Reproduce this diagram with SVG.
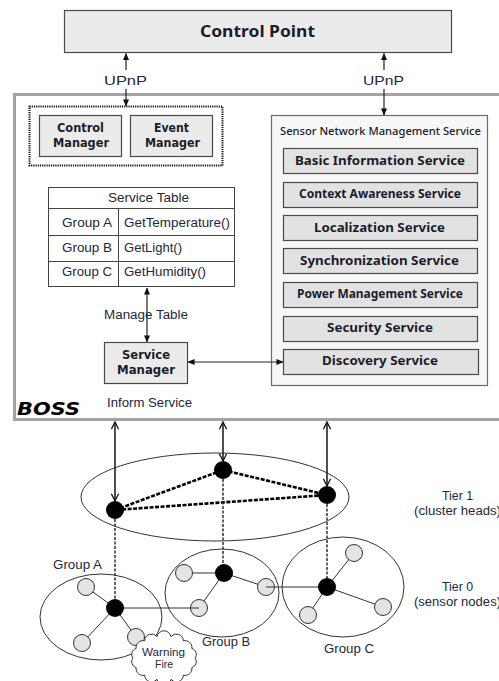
<svg xmlns="http://www.w3.org/2000/svg" width="499" height="681" viewBox="0 0 499 681">
  <style>
    .box { fill: #ebebeb; stroke: #4a4a4a; stroke-width: 1.2; }
    .svc { fill: #e2e2e2; stroke: #4a4a4a; stroke-width: 1.2; }
    .bold { font-family: "Noto Sans", "DejaVu Sans", Verdana, sans-serif; font-weight: bold; fill: #1c1c2c; }
    .bold2 { font-family: "DejaVu Sans", Verdana, sans-serif; font-weight: bold; font-size: 12.5px; fill: #1c1c2c; }
    .lbl { font-family: "Liberation Sans", Arial, sans-serif; fill: #26263a; }
    .link { stroke: #222; stroke-width: 1.2; fill: none; }
    .tierlink { stroke: #222; stroke-width: 1.6; fill: none; }
    .head { fill: #000; }
    .sensor { fill: #e4e4e4; stroke: #333; stroke-width: 1; }
    .edge { stroke: #333; stroke-width: 1; fill: none; }
    .chain { stroke: #000; stroke-width: 2.6; stroke-dasharray: 4 1.5; fill: none; }
    .drop { stroke: #222; stroke-width: 1.4; stroke-dasharray: 3 1.5; fill: none; }
    .ring { fill: none; stroke: #333; stroke-width: 1; }
  </style>
  <defs>
    <marker id="tip" viewBox="0 0 8 8" refX="7.5" refY="4" markerWidth="7" markerHeight="7" markerUnits="userSpaceOnUse" orient="auto-start-reverse">
      <path d="M0 0.5 L8 4 L0 7.5 Z" fill="#111"/>
    </marker>
    <marker id="open" viewBox="0 0 10 10" refX="9" refY="5" markerWidth="9" markerHeight="9" markerUnits="userSpaceOnUse" orient="auto-start-reverse">
      <path d="M1 1 L9 5 L1 9" fill="none" stroke="#111" stroke-width="1.4"/>
    </marker>
  </defs>

  <rect width="499" height="681" fill="#fff"/>

  <!-- Control Point -->
  <g id="control-point">
    <rect class="box" x="64.5" y="10.5" width="387" height="42"/>
    <text class="bold" x="200" y="37" font-size="16" textLength="115" lengthAdjust="spacingAndGlyphs">Control Point</text>
  </g>

  <!-- BOSS frame -->
  <g id="boss">
    <rect x="14.5" y="94.5" width="500" height="325" fill="#fff" stroke="#a3a3a3" stroke-width="3"/>
    <text x="17" y="415" font-family="'DejaVu Sans', Verdana, sans-serif" font-weight="bold" font-style="italic" font-size="17" fill="#000" textLength="63" lengthAdjust="spacingAndGlyphs">BOSS</text>
  </g>

  <!-- Manager pair -->
  <g id="managers">
    <rect x="29.5" y="106.5" width="193" height="59" fill="none" stroke="#111" stroke-width="2" stroke-dasharray="1.2 1"/>
  </g>
  <g id="control-manager">
    <rect class="box" x="39.5" y="115.5" width="82" height="41"/>
    <text class="bold2" x="57" y="132" textLength="47" lengthAdjust="spacingAndGlyphs">Control</text>
    <text class="bold2" x="53" y="147" textLength="56" lengthAdjust="spacingAndGlyphs">Manager</text>
  </g>
  <g id="event-manager">
    <rect class="box" x="130.5" y="115.5" width="82" height="41"/>
    <text class="bold2" x="154" y="132" textLength="35" lengthAdjust="spacingAndGlyphs">Event</text>
    <text class="bold2" x="145" y="147" textLength="55" lengthAdjust="spacingAndGlyphs">Manager</text>
  </g>

  <!-- Service table -->
  <g id="service-table">
    <rect x="48.5" y="187.5" width="186" height="99" fill="#fff" stroke="#444" stroke-width="1"/>
    <path d="M48.5 208.5 H234.5 M48.5 235.5 H234.5 M48.5 261.5 H234.5 M118.5 208.5 V286.5" stroke="#444" stroke-width="1" fill="none"/>
    <text class="lbl" x="108" y="202" font-size="12" textLength="81" lengthAdjust="spacingAndGlyphs">Service Table</text>
    <text class="lbl" x="62" y="227" font-size="12" textLength="50" lengthAdjust="spacingAndGlyphs">Group A</text>
    <text class="lbl" x="124" y="227" font-size="12" textLength="106" lengthAdjust="spacingAndGlyphs">GetTemperature()</text>
    <text class="lbl" x="62" y="252" font-size="12" textLength="50" lengthAdjust="spacingAndGlyphs">Group B</text>
    <text class="lbl" x="124" y="252" font-size="12" textLength="58" lengthAdjust="spacingAndGlyphs">GetLight()</text>
    <text class="lbl" x="62" y="276" font-size="12" textLength="50" lengthAdjust="spacingAndGlyphs">Group C</text>
    <text class="lbl" x="124" y="276" font-size="12" textLength="82" lengthAdjust="spacingAndGlyphs">GetHumidity()</text>
  </g>

  <!-- Service Manager -->
  <g id="service-manager">
    <rect class="box" x="104.5" y="342.5" width="83" height="41"/>
    <text class="bold2" x="122" y="359" textLength="48" lengthAdjust="spacingAndGlyphs">Service</text>
    <text class="bold2" x="117" y="374" textLength="58" lengthAdjust="spacingAndGlyphs">Manager</text>
  </g>

  <!-- Sensor Network Management Service -->
  <g id="snms">
    <rect x="271.5" y="115.5" width="216" height="270" fill="#f7f7f7" stroke="#6a6a6a" stroke-width="1.2"/>
    <text x="280" y="135" font-family="'Noto Sans', 'DejaVu Sans', Tahoma, sans-serif" font-size="11.5" font-weight="500" fill="#1c1c2c" textLength="201" lengthAdjust="spacingAndGlyphs">Sensor Network Management Service</text>
  </g>
  <g id="basic-information-service">
    <rect class="svc" x="283.5" y="148.5" width="194" height="25"/>
    <text class="bold" x="295" y="165" font-size="13" textLength="170" lengthAdjust="spacingAndGlyphs">Basic Information Service</text>
  </g>
  <g id="context-awareness-service">
    <rect class="svc" x="283.5" y="182.5" width="194" height="25"/>
    <text class="bold" x="299" y="198" font-size="13" textLength="162" lengthAdjust="spacingAndGlyphs">Context Awareness Service</text>
  </g>
  <g id="localization-service">
    <rect class="svc" x="283.5" y="215.5" width="194" height="25"/>
    <text class="bold" x="314" y="232" font-size="13" textLength="131" lengthAdjust="spacingAndGlyphs">Localization Service</text>
  </g>
  <g id="synchronization-service">
    <rect class="svc" x="283.5" y="248.5" width="194" height="25"/>
    <text class="bold" x="300" y="265" font-size="13" textLength="159" lengthAdjust="spacingAndGlyphs">Synchronization Service</text>
  </g>
  <g id="power-management-service">
    <rect class="svc" x="283.5" y="282.5" width="194" height="25"/>
    <text class="bold" x="297" y="298" font-size="12.5" textLength="166" lengthAdjust="spacingAndGlyphs">Power Management Service</text>
  </g>
  <g id="security-service">
    <rect class="svc" x="283.5" y="316.5" width="194" height="25"/>
    <text class="bold" x="327" y="332" font-size="13" textLength="106" lengthAdjust="spacingAndGlyphs">Security Service</text>
  </g>
  <g id="discovery-service">
    <rect class="svc" x="283.5" y="349.5" width="195" height="25"/>
    <text class="bold" x="322" y="365" font-size="13" textLength="116" lengthAdjust="spacingAndGlyphs">Discovery Service</text>
  </g>

  <!-- Sensor network: tier 1 -->
  <g id="tier1">
    <ellipse class="ring" cx="215" cy="497" rx="134" ry="44"/>
    <text class="lbl" x="442" y="500" font-size="12" textLength="31" lengthAdjust="spacingAndGlyphs">Tier 1</text>
    <text class="lbl" x="414" y="515" font-size="12" textLength="87" lengthAdjust="spacingAndGlyphs">(cluster heads)</text>
  </g>

  <!-- Sensor network: tier 0 groups -->
  <g id="group-a">
    <ellipse class="ring" cx="101" cy="617" rx="61" ry="43"/>
    <path class="edge" d="M115 608 L86 587 M115 608 L82 643 M115 608 L136 637"/>
    <circle class="sensor" cx="86" cy="587" r="8.5"/>
    <circle class="sensor" cx="82" cy="643" r="8.5"/>
    <circle class="sensor" cx="136" cy="637" r="8.5"/>
    <text class="lbl" x="53" y="569" font-size="12" textLength="49" lengthAdjust="spacingAndGlyphs">Group A</text>
  </g>
  <g id="group-b">
    <ellipse class="ring" cx="222" cy="593" rx="57" ry="44"/>
    <path class="edge" d="M224 573 L184 573 M224 573 L266 587 M224 573 L199 608"/>
    <circle class="sensor" cx="184" cy="573" r="8.5"/>
    <circle class="sensor" cx="266" cy="587" r="8.5"/>
    <circle class="sensor" cx="199" cy="608" r="8.5"/>
    <text class="lbl" x="202" y="646" font-size="12" textLength="48" lengthAdjust="spacingAndGlyphs">Group B</text>
  </g>
  <g id="group-c">
    <ellipse class="ring" cx="343" cy="587" rx="61" ry="50"/>
    <path class="edge" d="M327 587 L354 553 M327 587 L383 607 M327 587 L308 615"/>
    <circle class="sensor" cx="354" cy="553" r="8.5"/>
    <circle class="sensor" cx="383" cy="607" r="8.5"/>
    <circle class="sensor" cx="308" cy="615" r="8.5"/>
    <text class="lbl" x="324" y="653" font-size="12" textLength="50" lengthAdjust="spacingAndGlyphs">Group C</text>
  </g>
  <g id="tier0-label">
    <text class="lbl" x="442" y="591" font-size="12" textLength="31" lengthAdjust="spacingAndGlyphs">Tier 0</text>
    <text class="lbl" x="414" y="606" font-size="12" textLength="87" lengthAdjust="spacingAndGlyphs">(sensor nodes)</text>
  </g>

  <!-- Connectors -->
  <g id="connectors">
    <line class="link" x1="126" y1="70" x2="126" y2="53.5" marker-end="url(#tip)"/>
    <line class="link" x1="126" y1="89" x2="126" y2="106" marker-end="url(#tip)"/>
    <line class="link" x1="384" y1="70" x2="384" y2="53.5" marker-end="url(#tip)"/>
    <line class="link" x1="384" y1="89" x2="384" y2="115" marker-end="url(#tip)"/>
    <line class="link" x1="147" y1="288" x2="147" y2="342" marker-start="url(#tip)" marker-end="url(#tip)"/>
    <line class="link" x1="188" y1="362" x2="283" y2="362" marker-start="url(#tip)" marker-end="url(#tip)"/>

    <line class="tierlink" x1="115" y1="422" x2="115" y2="501" marker-start="url(#open)" marker-end="url(#open)"/>
    <line class="tierlink" x1="223" y1="422" x2="223" y2="461" marker-start="url(#open)" marker-end="url(#open)"/>
    <line class="tierlink" x1="327" y1="422" x2="327" y2="486" marker-start="url(#open)" marker-end="url(#open)"/>

    <path class="chain" d="M115 510 L223 470 L327 495 L115 510"/>
    <path class="drop" d="M115 510 V608 M223 470 V573 M327 495 V587"/>
    <path class="edge" d="M115 608 L199 608 M327 587 L266 587"/>
  </g>

  <!-- Cluster heads and group heads -->
  <g id="heads">
    <circle class="head" cx="115" cy="510" r="9"/>
    <circle class="head" cx="223" cy="470" r="9"/>
    <circle class="head" cx="327" cy="495" r="9"/>
    <circle class="head" cx="115" cy="608" r="9"/>
    <circle class="head" cx="224" cy="573" r="9"/>
    <circle class="head" cx="327" cy="587" r="9"/>
  </g>

  <!-- Fire warning bubble -->
  <g id="warning-fire">
    <path d="M195 658 A6 6 0 0 1 191.9 667.5 A7 7 0 0 1 183.3 675.2 A7 7 0 0 1 170.9 679.4 A7 7 0 0 1 157.1 679.4 A7 7 0 0 1 144.7 675.2 A7 7 0 0 1 136.1 667.5 A6 6 0 0 1 133 658 A6 6 0 0 1 136.1 648.5 A7 7 0 0 1 144.7 640.8 A7 7 0 0 1 157.1 636.6 A7 7 0 0 1 170.9 636.6 A7 7 0 0 1 183.3 640.8 A7 7 0 0 1 191.9 648.5 A6 6 0 0 1 195 658 Z" fill="#fff" stroke="#333" stroke-width="1"/>
    <text class="lbl" x="142" y="656" font-size="11" textLength="43" lengthAdjust="spacingAndGlyphs">Warning</text>
    <text class="lbl" x="155" y="668" font-size="11" textLength="18" lengthAdjust="spacingAndGlyphs">Fire</text>
  </g>

  <!-- Link labels -->
  <g id="link-labels">
    <text class="lbl" x="104" y="85" font-size="13" textLength="43" lengthAdjust="spacingAndGlyphs">UPnP</text>
    <text class="lbl" x="363" y="85" font-size="13" textLength="41" lengthAdjust="spacingAndGlyphs">UPnP</text>
    <text class="lbl" x="104" y="319" font-size="12" textLength="84" lengthAdjust="spacingAndGlyphs">Manage Table</text>
    <text class="lbl" x="107" y="407" font-size="12" textLength="85" lengthAdjust="spacingAndGlyphs">Inform Service</text>
  </g>
</svg>
